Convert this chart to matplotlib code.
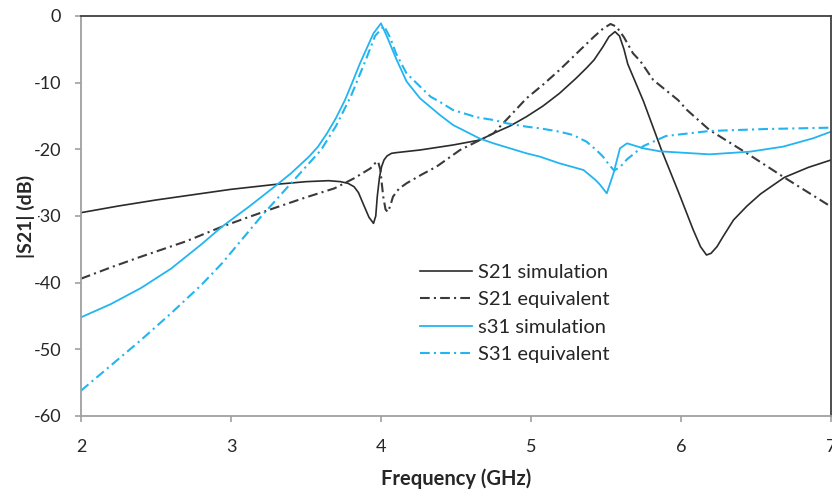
import matplotlib
matplotlib.use("Agg")
import matplotlib.pyplot as plt

plt.rcParams['font.family'] = ['Lato', 'DejaVu Sans']
plt.rcParams['lines.scale_dashes'] = False

# |S21| simulation (GHz, dB)
f_s21_sim = [2.0, 2.25, 2.5, 2.75, 3.0, 3.3, 3.5, 3.65, 3.73, 3.78, 3.82, 3.85, 3.88,
             3.92, 3.95, 3.965, 3.975, 3.99, 4.004, 4.02, 4.04, 4.07, 4.10, 4.26, 4.48,
             4.66, 4.75, 4.86, 4.97, 5.08, 5.19, 5.30, 5.37, 5.42, 5.48, 5.52, 5.56,
             5.59, 5.62, 5.645, 5.75, 5.87, 5.99, 6.08, 6.13, 6.17, 6.20, 6.24, 6.28,
             6.35, 6.44, 6.53, 6.60, 6.69, 6.85, 7.0]
s21_sim = [-29.5, -28.5, -27.6, -26.8, -26.0, -25.25, -24.85, -24.7, -24.85, -25.1, -25.6,
           -26.5, -28.1, -30.2, -31.1, -30.0, -27.1, -24.2, -22.6, -21.6, -21.0, -20.6,
           -20.5, -20.1, -19.35, -18.6, -17.6, -16.5, -15.1, -13.5, -11.6, -9.35, -7.8,
           -6.6, -4.6, -3.1, -2.35, -3.0, -5.0, -7.2, -12.8, -20.1, -26.8, -32.0, -34.6,
           -35.85, -35.6, -34.6, -33.1, -30.6, -28.5, -26.7, -25.6, -24.2, -22.7, -21.6]

# |S21| equivalent circuit
f_s21_eq = [2.0, 2.2, 2.4, 2.7, 2.94, 3.1, 3.29, 3.5, 3.69, 3.82, 3.93, 3.96, 3.98, 3.995,
            4.015, 4.03, 4.045, 4.06, 4.08, 4.12, 4.17, 4.27, 4.37, 4.527, 4.66, 4.75,
            4.86, 4.97, 5.08, 5.19, 5.30, 5.42, 5.48, 5.53, 5.57, 5.62, 5.68, 5.73,
            5.815, 5.98, 6.04, 6.19, 6.44, 6.68, 7.0]
s21_eq = [-39.4, -37.7, -36.1, -33.8, -31.6, -30.3, -28.8, -27.2, -25.85, -24.35, -22.85,
          -22.1, -21.8, -23.0, -27.1, -29.0, -29.4, -28.6, -27.1, -25.9, -25.1, -23.8,
          -22.6, -20.1, -18.6, -17.6, -15.0, -12.35, -10.3, -8.1, -5.7, -3.1, -1.9,
          -1.2, -1.6, -3.2, -5.6, -6.8, -9.6, -12.6, -14.1, -17.1, -20.6, -24.1, -28.6]

# |S31| simulation
f_s31_sim = [2.0, 2.2, 2.4, 2.6, 2.8, 2.94, 3.12, 3.29, 3.40, 3.52, 3.58, 3.64, 3.70,
             3.76, 3.81, 3.86, 3.95, 4.0, 4.04, 4.10, 4.17, 4.26, 4.30, 4.39, 4.48, 4.66,
             4.75, 4.97, 5.06, 5.19, 5.35, 5.43, 5.46, 5.505, 5.55, 5.593, 5.64, 5.75,
             5.86, 6.19, 6.46, 6.68, 6.88, 7.0]
s31_sim = [-45.2, -43.2, -40.8, -37.9, -34.3, -31.6, -28.6, -25.6, -23.6, -21.1, -19.6,
           -17.6, -15.3, -12.6, -9.9, -7.1, -2.6, -1.1, -3.1, -6.35, -9.8, -12.35, -13.1,
           -14.8, -16.35, -18.4, -19.1, -20.6, -21.1, -22.1, -23.1, -24.6, -25.3, -26.6,
           -23.6, -19.85, -19.1, -19.85, -20.3, -20.75, -20.35, -19.6, -18.35, -17.35]

# |S31| equivalent circuit
f_s31_eq = [2.0, 2.2, 2.4, 2.6, 2.8, 2.94, 3.2, 3.4, 3.6, 3.7, 3.8, 3.9, 3.96, 4.02, 4.06,
            4.10, 4.17, 4.33, 4.39, 4.48, 4.64, 4.75, 4.84, 4.97, 5.06, 5.19, 5.28,
            5.37, 5.44, 5.48, 5.52, 5.555, 5.60, 5.64, 5.75, 5.90, 6.19, 6.57, 7.0]
s31_eq = [-56.2, -52.4, -48.6, -44.6, -40.4, -37.1, -30.1, -25.1, -20.1, -16.5, -12.0,
          -6.5, -3.0, -1.5, -3.2, -5.6, -8.6, -12.1, -12.85, -14.1, -15.2, -15.6, -16.1,
          -16.6, -16.85, -17.35, -17.85, -18.85, -20.2, -21.1, -22.3, -23.2, -22.5,
          -21.5, -19.5, -18.0, -17.25, -16.95, -16.75]

series_labels = ['S21 simulation', 'S21 equivalent', 's31 simulation', 'S31 equivalent']
x_ticks = [2, 3, 4, 5, 6, 7]
y_ticks = [0, -10, -20, -30, -40, -50, -60]

black = '#2b2b2b'
blue = '#22b5f0'
dashdot = (0, (7, 3, 1.5, 3))

fig = plt.figure(figsize=(8.32, 4.93), dpi=100)
ax = fig.add_axes([81 / 832, 1 - 416 / 493, 750 / 832, 400 / 493])

ax.plot(f_s21_sim, s21_sim, color=black, lw=1.2, label=series_labels[0])
ax.plot(f_s21_eq, s21_eq, color='#3a3a3a', lw=1.5, linestyle=dashdot, label=series_labels[1])
ax.plot(f_s31_sim, s31_sim, color=blue, lw=1.3, label=series_labels[2])
ax.plot(f_s31_eq, s31_eq, color=blue, lw=1.5, linestyle=dashdot, label=series_labels[3])

ax.set_xlim(2, 7)
ax.set_ylim(-60, 0)
ax.set_xticks(x_ticks)
ax.set_yticks(y_ticks)
ax.set_xticklabels([str(v) for v in x_ticks])
ax.set_yticklabels([str(v) for v in y_ticks])

for side in ('left', 'bottom'):
    ax.spines[side].set_color('#a0a0a0')
    ax.spines[side].set_linewidth(1.3)
for side in ('top', 'right'):
    ax.spines[side].set_color('#404040')
    ax.spines[side].set_linewidth(1.3)

ax.tick_params(axis='both', direction='out', length=4.3, width=1.2, color='#a0a0a0',
               labelsize=13, labelcolor='#262626')
ax.tick_params(axis='x', pad=12)
ax.tick_params(axis='y', pad=10)

ax.set_xlabel('Frequency (GHz)', fontsize=14.5, fontweight='bold', color='#262626', labelpad=10)
ax.set_ylabel('|S21| (dB)', fontsize=14, fontweight='bold', color='#262626',
              bbox=dict(facecolor='white', edgecolor='none', pad=2))
ax.yaxis.set_label_coords(-0.0613, 0.5)

leg = ax.legend(loc='upper left', bbox_to_anchor=(0.452, 0.381), frameon=False,
                fontsize=14.5, handlelength=2.58, handletextpad=0.3, labelspacing=0.52,
                borderpad=0, borderaxespad=0)
for t in leg.get_texts():
    t.set_color('#262626')

fig.savefig('out.png', dpi=100)
